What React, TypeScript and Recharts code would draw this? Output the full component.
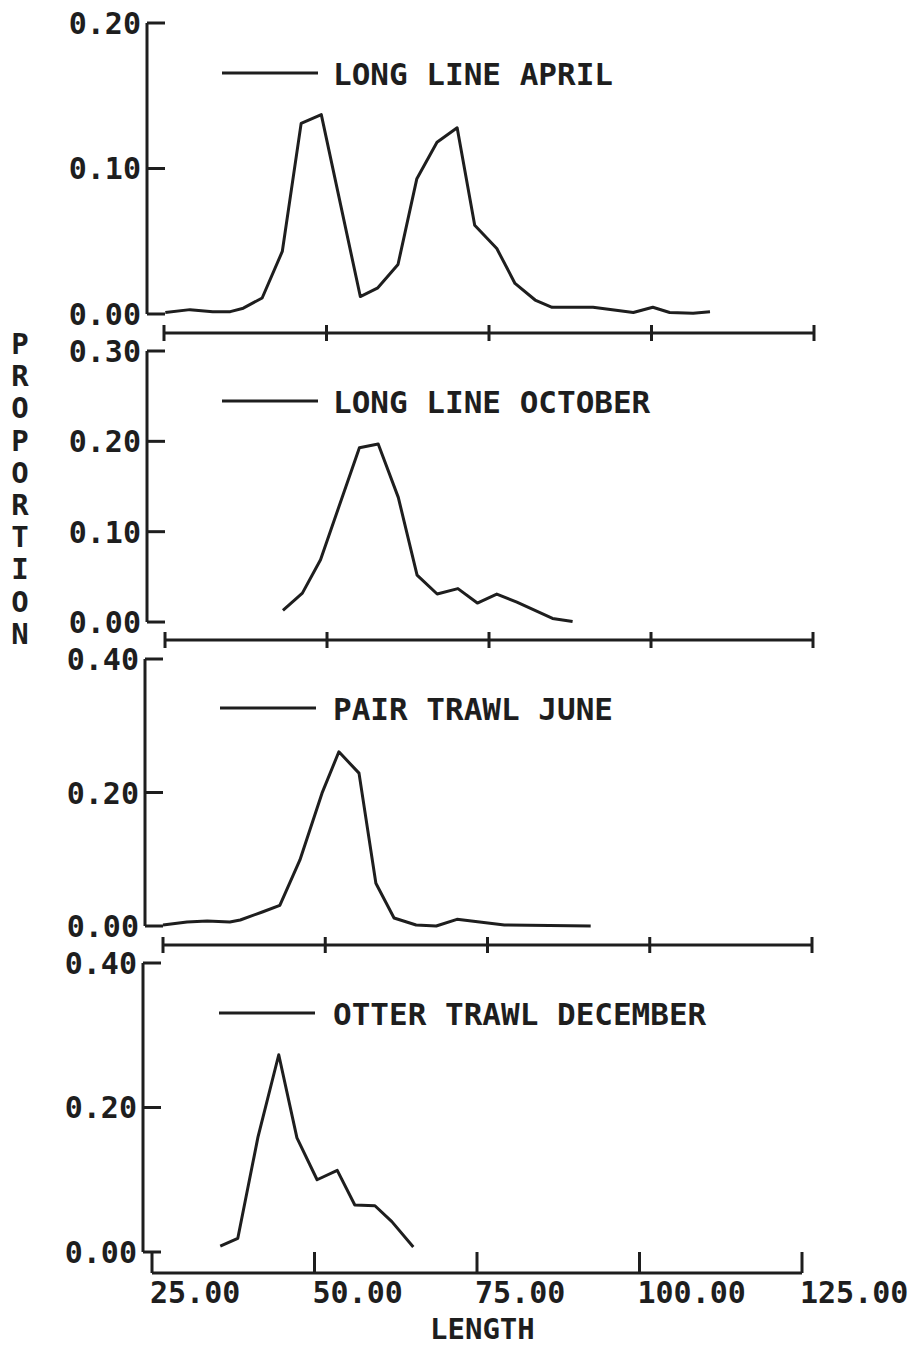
import React from 'react'
import { LineChart, Line, XAxis, YAxis, ReferenceLine, Legend } from 'recharts'

// x axis ticks shared by every panel
const lengthTicks = [25, 50, 75, 100, 125]

// long line, April
const aprilLength = [25.2, 29.0, 32.5, 35.2, 37.2, 40.1, 43.2, 46.1, 49.2, 55.2, 57.9, 61.0, 63.9, 67.0, 70.1, 72.8, 76.2, 79.0, 82.1, 84.7, 91.0, 97.2, 100.2, 102.8, 106.4, 109.0]
const aprilProp = [0.001, 0.003, 0.0015, 0.0016, 0.004, 0.011, 0.043, 0.131, 0.137, 0.012, 0.018, 0.034, 0.093, 0.118, 0.128, 0.061, 0.045, 0.021, 0.0096, 0.0046, 0.0046, 0.001, 0.0046, 0.001, 0.0005, 0.0016]
const aprilTicks = [0, 0.1, 0.2]

// long line, October
const octoberLength = [43.2, 46.2, 49.0, 55.0, 57.9, 61.0, 63.9, 67.0, 70.2, 73.2, 76.2, 79.3, 84.8, 87.9]
const octoberProp = [0.013, 0.032, 0.069, 0.193, 0.197, 0.138, 0.052, 0.031, 0.037, 0.021, 0.031, 0.022, 0.004, 0.0005]
const octoberTicks = [0, 0.1, 0.2, 0.3]

// pair trawl, June
const juneLength = [25.0, 28.7, 31.8, 35.3, 36.9, 40.3, 43.0, 46.1, 49.5, 52.1, 55.2, 57.8, 60.6, 64.0, 67.1, 70.3, 77.6, 90.9]
const juneProp = [0.0015, 0.006, 0.0075, 0.006, 0.009, 0.021, 0.031, 0.099, 0.199, 0.261, 0.229, 0.064, 0.012, 0.0015, 0.0, 0.01, 0.0015, 0.0]
const juneTicks = [0, 0.2, 0.4]

// otter trawl, December
const decemberLength = [35.5, 38.2, 41.3, 44.5, 47.3, 50.4, 53.5, 56.2, 59.3, 61.9, 65.2]
const decemberProp = [0.008, 0.019, 0.159, 0.273, 0.158, 0.1, 0.113, 0.065, 0.064, 0.042, 0.007]
const decemberTicks = [0, 0.2, 0.4]

const yLetters = ['P', 'R', 'O', 'P', 'O', 'R', 'T', 'I', 'O', 'N']

const INK = '#1e1e1e'
const FONT = '"DejaVu Sans Mono", "Liberation Mono", monospace'
const WEIGHT = 'bold'

const toRows = (len: number[], prop: number[]) => len.map((l, i) => ({ len: l, p: prop[i] }))

const panels = [
  { name: 'LONG LINE APRIL', rows: toRows(aprilLength, aprilProp), yTicks: aprilTicks, yMax: 0.2, yLo: -0.01306, xLo: 22.385, left: 147, right: 814, top: 23, bottom: 333, legendY: 73, legendX: 222, last: false },
  { name: 'LONG LINE OCTOBER', rows: toRows(octoberLength, octoberProp), yTicks: octoberTicks, yMax: 0.3, yLo: -0.0199, xLo: 22.22, left: 147, right: 813, top: 351, bottom: 640, legendY: 401, legendX: 222, last: false },
  { name: 'PAIR TRAWL JUNE', rows: toRows(juneLength, juneProp), yTicks: juneTicks, yMax: 0.4, yLo: -0.02846, xLo: 22.226, left: 145, right: 812, top: 659, bottom: 945, legendY: 708, legendX: 220, last: false },
  { name: 'OTTER TRAWL DECEMBER', rows: toRows(decemberLength, decemberProp), yTicks: decemberTicks, yMax: 0.4, yLo: -0.02907, xLo: 23.615, left: 143, right: 802, top: 963, bottom: 1273, legendY: 1013, legendX: 219, last: true },
]

const YTick = (props: any) => {
  const { x, y, payload } = props
  return (
    <g>
      <line x1={x} x2={x + 18} y1={y} y2={y} stroke={INK} strokeWidth={3} />
      <text x={x - 6} y={y} dy={11} textAnchor="end" fontFamily={FONT} fontWeight={WEIGHT} fontSize={30} fill={INK}>
        {Number(payload.value).toFixed(2)}
      </text>
    </g>
  )
}

const CrossTick = (props: any) => {
  const { x, y } = props
  return <line x1={x} x2={x} y1={y - 8} y2={y + 8} stroke={INK} strokeWidth={3} />
}

const UpTick = (props: any) => {
  const { x, y, payload } = props
  return (
    <g>
      <line x1={x} x2={x} y1={y} y2={y - 21} stroke={INK} strokeWidth={3} />
      <text x={x - 2} y={y + 30} textAnchor="start" fontFamily={FONT} fontWeight={WEIGHT} fontSize={30} fill={INK}>
        {Number(payload.value).toFixed(2)}
      </text>
    </g>
  )
}

const MARGIN_TOP = 20
const AXIS_H = 30
const EXTRA = 40

function Panel({ p }: { p: (typeof panels)[number] }) {
  const chartTop = p.top - MARGIN_TOP
  const height = p.bottom - p.top + MARGIN_TOP + AXIS_H + EXTRA
  return (
    <div style={{ position: 'absolute', left: 0, top: chartTop }}>
      <LineChart
        width={917}
        height={height}
        data={p.rows}
        margin={{ top: MARGIN_TOP, left: 0, right: 917 - p.right, bottom: EXTRA }}
      >
        <XAxis
          dataKey="len"
          type="number"
          domain={[p.xLo, 125]}
          allowDataOverflow
          ticks={lengthTicks}
          interval={0}
          height={AXIS_H}
          axisLine={false}
          tickLine={false}
          tickSize={0}
          tickMargin={0}
          tick={(props: any) => (p.last ? <UpTick {...props} /> : <CrossTick {...props} />)}
        />
        <YAxis
          type="number"
          domain={[p.yLo, p.yMax]}
          allowDataOverflow
          ticks={p.yTicks}
          interval={0}
          width={p.left}
          axisLine={false}
          tickLine={false}
          tickSize={0}
          tickMargin={0}
          tick={(props: any) => <YTick {...props} />}
        />
        <ReferenceLine
          segment={[{ x: p.xLo, y: 0 }, { x: p.xLo, y: p.yMax }]}
          stroke={INK}
          strokeWidth={3}
          ifOverflow="visible"
        />
        <ReferenceLine
          segment={[{ x: 25, y: p.yLo }, { x: 125, y: p.yLo }]}
          stroke={INK}
          strokeWidth={3}
          ifOverflow="visible"
        />
        <Legend
          layout="horizontal"
          verticalAlign="middle"
          align="center"
          wrapperStyle={{ left: p.legendX - 4, top: p.legendY - chartTop - 20, width: 560, height: 40 }}
          content={(props: any) => {
            const label = props.payload && props.payload[0] ? props.payload[0].value : p.name
            return (
              <svg width={560} height={40} style={{ display: 'block', overflow: 'visible' }}>
                <line x1={4} x2={100} y1={20} y2={20} stroke={INK} strokeWidth={3} />
                <text x={333 - p.legendX + 4} y={32} fontFamily={FONT} fontWeight={WEIGHT} fontSize={31} fill={INK}>
                  {label}
                </text>
              </svg>
            )
          }}
        />
        <Line
          type="linear"
          dataKey="p"
          name={p.name}
          stroke={INK}
          strokeWidth={3}
          strokeLinejoin="round"
          dot={false}
          activeDot={false}
          isAnimationActive={false}
        />
      </LineChart>
    </div>
  )
}

export default function App() {
  return (
    <div style={{ position: 'absolute', left: 0, top: 0, width: 917, height: 1347, background: '#ffffff' }}>
      <svg width={917} height={1347} style={{ position: 'absolute', left: 0, top: 0 }}>
        {yLetters.map((ch, i) => (
          <text key={i} x={20} y={343 + i * 32.2 + 11} textAnchor="middle" fontFamily={FONT} fontWeight={WEIGHT} fontSize={29} fill={INK}>
            {ch}
          </text>
        ))}
        <text x={430} y={1339} fontFamily={FONT} fontWeight={WEIGHT} fontSize={29} fill={INK}>
          LENGTH
        </text>
      </svg>
      {panels.map((p) => (
        <Panel key={p.name} p={p} />
      ))}
    </div>
  )
}
